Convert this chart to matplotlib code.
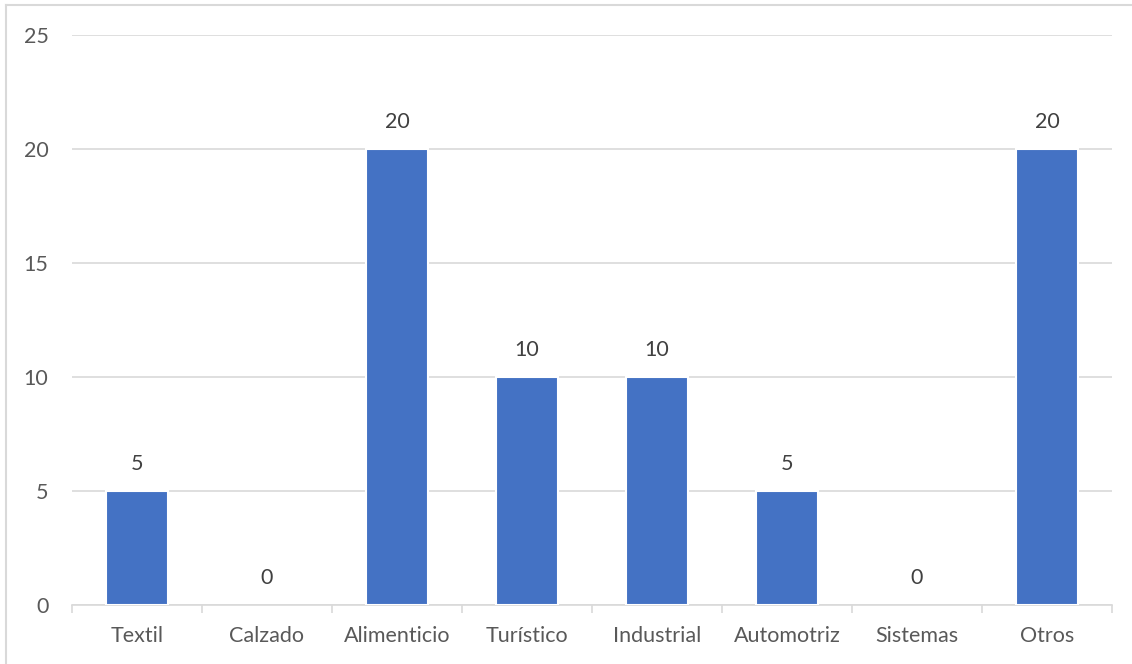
import numpy as np
import matplotlib.pyplot as plt
from matplotlib.lines import Line2D

sectores = ['Textil', 'Calzado', 'Alimenticio', 'Turístico', 'Industrial',
            'Automotriz', 'Sistemas', 'Otros']
valores = [5, 0, 20, 10, 10, 5, 0, 20]

plt.rcParams['font.family'] = ['Lato', 'DejaVu Sans']

W, H = 1132, 664
fig = plt.figure(figsize=(W / 100, H / 100), dpi=100)
ax = fig.add_axes([72 / W, 1 - 605 / H, (1112 - 72) / W, (605 - 35) / H])

x = np.arange(len(sectores))
barras = ax.bar(x, valores, width=0.47, color='#4472c4',
                edgecolor='white', linewidth=1.5, zorder=3)
for b, v in zip(barras, valores):
    if v == 0:
        b.set_linewidth(0)
    ax.text(b.get_x() + b.get_width() / 2, v + 0.75, str(v),
            ha='center', va='bottom', fontsize=15.5, color='#404040')

ax.set_xlim(-0.5, len(sectores) - 0.5)
ax.set_ylim(0, 25)
ax.set_yticks(range(0, 26, 5))
ax.yaxis.grid(True, color='#d9d9d9', linewidth=1.2, zorder=0)
ax.tick_params(axis='y', length=0, pad=17, labelsize=15.5, labelcolor='#595959')

# category labels at centers, tick marks at the boundaries
ax.set_xticks(x)
ax.set_xticklabels(sectores)
ax.set_xticks(np.arange(-0.5, len(sectores)), minor=True)
ax.tick_params(axis='x', which='major', length=0, pad=15, labelsize=15.5,
               labelcolor='#595959')
ax.tick_params(axis='x', which='minor', length=6, color='#d9d9d9', width=1.2)

for s in ['top', 'right', 'left']:
    ax.spines[s].set_visible(False)
ax.spines['bottom'].set_color('#d9d9d9')
ax.spines['bottom'].set_linewidth(1.2)

# light frame around the chart
fig.add_artist(Line2D([6 / W, 1], [1 - 5 / H, 1 - 5 / H],
                      transform=fig.transFigure, color='#d9d9d9', lw=1.5))
fig.add_artist(Line2D([6 / W, 6 / W], [0, 1 - 5 / H],
                      transform=fig.transFigure, color='#d9d9d9', lw=1.5))

fig.savefig('out.png', dpi=100)
